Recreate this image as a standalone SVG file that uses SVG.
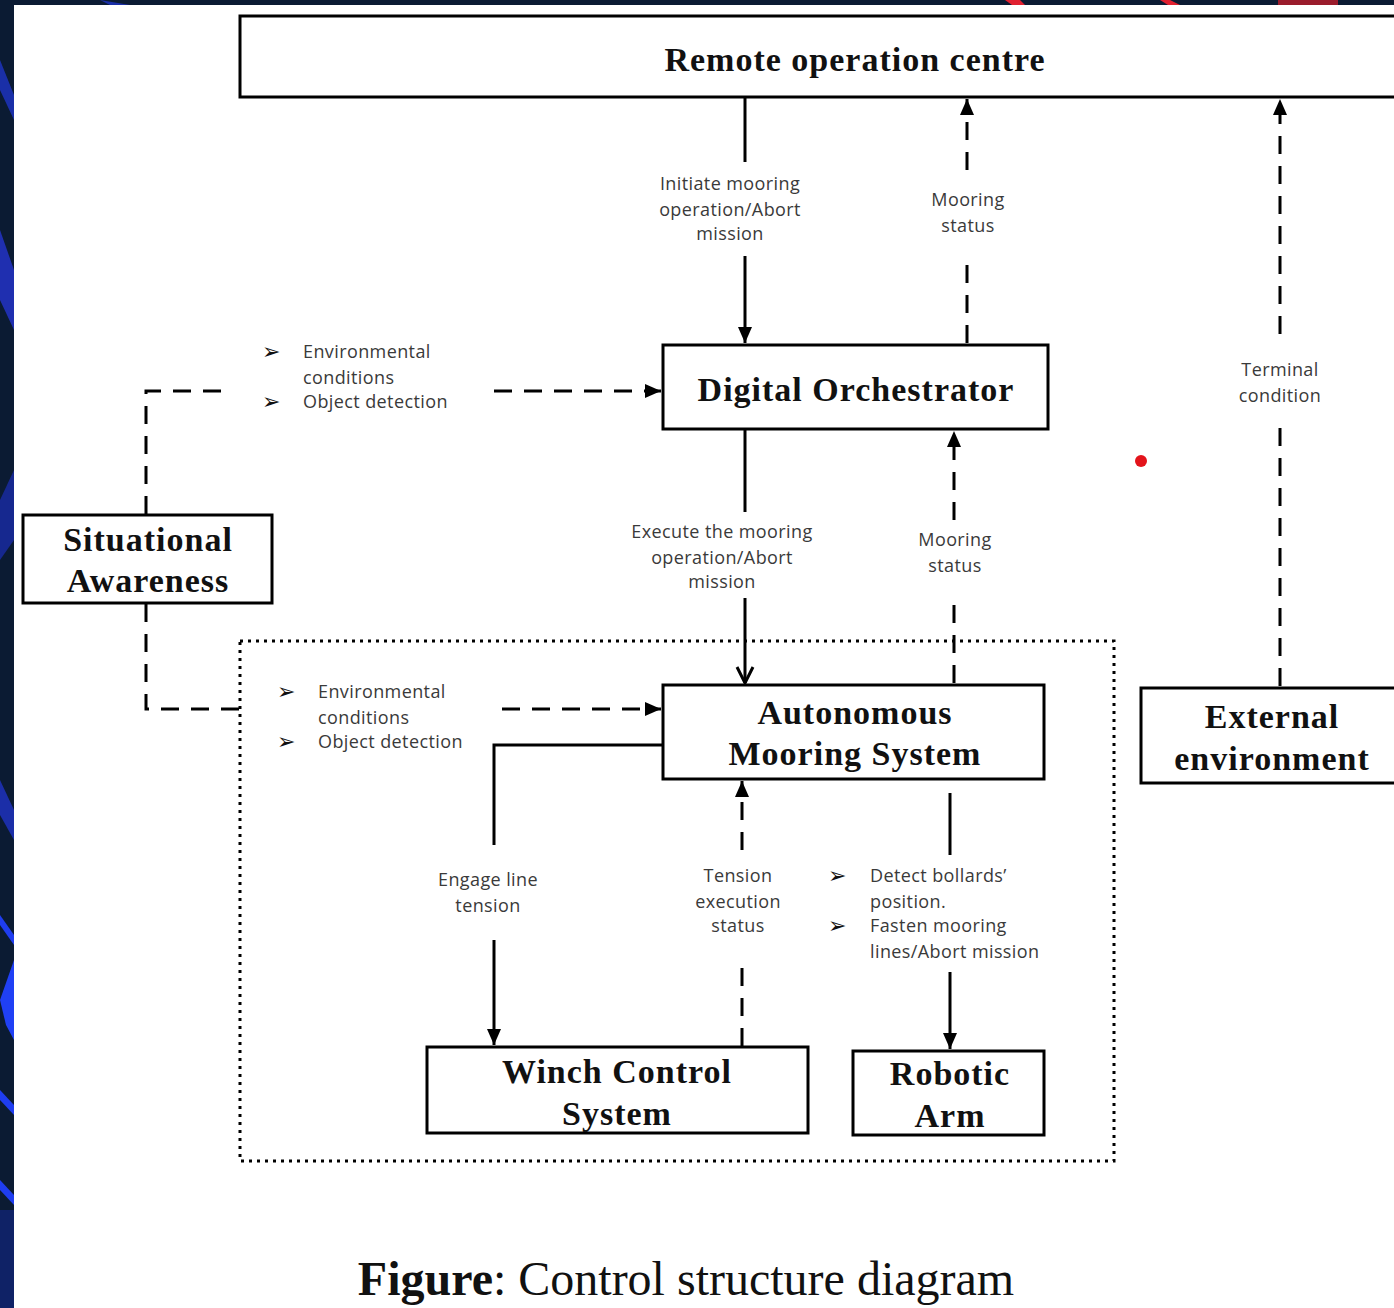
<svg xmlns="http://www.w3.org/2000/svg" width="1394" height="1308" viewBox="0 0 1394 1308">
  <defs>
    <style>
      .box { fill: #ffffff; stroke: #000000; stroke-width: 3; }
      .title { font-family: "Liberation Serif", "Times New Roman", serif; font-weight: bold; font-size: 34px; letter-spacing: 1px; fill: #111111; text-anchor: middle; }
      .lbl { font-family: "Open Sans", "Noto Sans", sans-serif; font-size: 18px; letter-spacing: 0.4px; fill: #3a3a3a; }
      .mid { text-anchor: middle; }
      .bul { font-family: "DejaVu Sans", sans-serif; font-size: 22px; fill: #111111; }
      .solid { fill: none; stroke: #000000; stroke-width: 3; }
      .dash { fill: none; stroke: #000000; stroke-width: 3; stroke-dasharray: 18 12; }
      .dots { fill: none; stroke: #000000; stroke-width: 3; stroke-dasharray: 3 5; }
    </style>
    <marker id="tri" markerUnits="userSpaceOnUse" markerWidth="18" markerHeight="18" viewBox="0 0 18 18" refX="17" refY="9" orient="auto">
      <path d="M1,2 L17,9 L1,16 Z" fill="#000000"/>
    </marker>
    <marker id="vee" markerUnits="userSpaceOnUse" markerWidth="20" markerHeight="20" viewBox="0 0 20 20" refX="18" refY="10" orient="auto">
      <path d="M2,2 L18,10 L2,18" fill="none" stroke="#000000" stroke-width="3"/>
    </marker>
  </defs>

  <!-- page frame -->
  <rect x="0" y="0" width="1394" height="1308" fill="#0b1b33"/>
  <g id="frame-streaks">
    <path d="M0,60 L14,95 L14,120 L0,90 Z" fill="#1a2fa8"/>
    <path d="M0,230 L14,270 L14,330 L0,300 Z" fill="#1f2fb0"/>
    <path d="M0,500 L14,470 L14,540 L0,560 Z" fill="#16288f"/>
    <path d="M0,780 L14,810 L14,840 L0,815 Z" fill="#1b2ea8"/>
    <path d="M0,915 L14,935 L14,945 L0,925 Z" fill="#1f3df0"/>
    <path d="M0,1000 L14,960 L14,1040 L6,1025 Z" fill="#2040f5"/>
    <path d="M0,1090 L14,1105 L14,1115 L0,1100 Z" fill="#1f3df0"/>
    <path d="M0,1180 L14,1195 L14,1205 L0,1190 Z" fill="#1f3df0"/>
    <rect x="0" y="1210" width="14" height="98" fill="#0f2266"/>
    <path d="M100,0 L130,5 L110,5 Z" fill="#1a2fa8"/>
    <path d="M1005,0 L1020,0 L1025,5 L1012,5 Z" fill="#e02030"/>
    <path d="M1160,0 L1170,0 L1180,5 L1168,5 Z" fill="#e02030"/>
    <rect x="1278" y="0" width="60" height="5" fill="#9a1c2c"/>
  </g>
  <rect x="14" y="5" width="1380" height="1303" fill="#ffffff"/>

  <!-- controlled process boundary -->
  <rect x="240" y="641" width="874" height="520" class="dots"/>

  <!-- connectors -->
  <g id="connectors">
    <!-- ROC -> Digital Orchestrator -->
    <line x1="745" y1="97" x2="745" y2="162" class="solid"/>
    <line x1="745" y1="256" x2="745" y2="343" class="solid" marker-end="url(#tri)"/>
    <!-- Digital Orchestrator -> ROC (status) -->
    <line x1="967" y1="343" x2="967" y2="258" class="dash"/>
    <line x1="967" y1="170" x2="967" y2="99" class="dash" stroke-dasharray="18 16" marker-end="url(#tri)"/>
    <!-- External environment -> ROC -->
    <line x1="1280" y1="686" x2="1280" y2="424" class="dash"/>
    <line x1="1280" y1="334" x2="1280" y2="99" class="dash" marker-end="url(#tri)"/>
    <!-- Digital Orchestrator -> AMS -->
    <line x1="745" y1="430" x2="745" y2="512" class="solid"/>
    <line x1="745" y1="598" x2="745" y2="683" class="solid" marker-end="url(#vee)"/>
    <!-- AMS -> Digital Orchestrator (status) -->
    <line x1="954" y1="683" x2="954" y2="598" class="dash"/>
    <line x1="954" y1="520" x2="954" y2="431" class="dash" stroke-dasharray="16 12" marker-end="url(#tri)"/>
    <!-- Situational Awareness -> Digital Orchestrator -->
    <polyline points="146,514 146,391 228,391" class="dash"/>
    <line x1="494" y1="391" x2="661" y2="391" class="dash" marker-end="url(#tri)"/>
    <!-- Situational Awareness -> AMS -->
    <polyline points="146,604 146,709 250,709" class="dash"/>
    <line x1="502" y1="709" x2="661" y2="709" class="dash" marker-end="url(#tri)"/>
    <!-- AMS -> Winch Control System -->
    <polyline points="663,745 494,745 494,845" class="solid"/>
    <line x1="494" y1="940" x2="494" y2="1045" class="solid" marker-end="url(#tri)"/>
    <!-- Winch Control System -> AMS (status) -->
    <line x1="742" y1="1046" x2="742" y2="962" class="dash"/>
    <line x1="742" y1="850" x2="742" y2="781" class="dash" stroke-dasharray="16 12" marker-end="url(#tri)"/>
    <!-- AMS -> Robotic Arm -->
    <line x1="950" y1="793" x2="950" y2="855" class="solid"/>
    <line x1="950" y1="972" x2="950" y2="1049" class="solid" marker-end="url(#tri)"/>
  </g>

  <!-- connector labels -->
  <g id="labels">
    <text class="lbl mid" x="730" y="190">Initiate mooring</text>
    <text class="lbl mid" x="730" y="216">operation/Abort</text>
    <text class="lbl mid" x="730" y="240">mission</text>

    <text class="lbl mid" x="968" y="206">Mooring</text>
    <text class="lbl mid" x="968" y="232">status</text>

    <text class="lbl mid" x="1280" y="376">Terminal</text>
    <text class="lbl mid" x="1280" y="402">condition</text>

    <text class="bul" x="262" y="359">➢</text>
    <text class="lbl" x="303" y="358">Environmental</text>
    <text class="lbl" x="303" y="384">conditions</text>
    <text class="bul" x="262" y="409">➢</text>
    <text class="lbl" x="303" y="408">Object detection</text>

    <text class="lbl mid" x="722" y="538">Execute the mooring</text>
    <text class="lbl mid" x="722" y="564">operation/Abort</text>
    <text class="lbl mid" x="722" y="588">mission</text>

    <text class="lbl mid" x="955" y="546">Mooring</text>
    <text class="lbl mid" x="955" y="572">status</text>

    <text class="bul" x="277" y="699">➢</text>
    <text class="lbl" x="318" y="698">Environmental</text>
    <text class="lbl" x="318" y="724">conditions</text>
    <text class="bul" x="277" y="749">➢</text>
    <text class="lbl" x="318" y="748">Object detection</text>

    <text class="lbl mid" x="488" y="886">Engage line</text>
    <text class="lbl mid" x="488" y="912">tension</text>

    <text class="lbl mid" x="738" y="882">Tension</text>
    <text class="lbl mid" x="738" y="908">execution</text>
    <text class="lbl mid" x="738" y="932">status</text>

    <text class="bul" x="828" y="883">➢</text>
    <text class="lbl" x="870" y="882">Detect bollards’</text>
    <text class="lbl" x="870" y="908">position.</text>
    <text class="bul" x="828" y="933">➢</text>
    <text class="lbl" x="870" y="932">Fasten mooring</text>
    <text class="lbl" x="870" y="958">lines/Abort mission</text>
  </g>

  <!-- nodes -->
  <g id="remote-operation-centre">
    <rect x="240" y="16" width="1170" height="81" class="box"/>
    <text class="title" x="855" y="71">Remote operation centre</text>
  </g>
  <g id="digital-orchestrator">
    <rect x="663" y="345" width="385" height="84" class="box"/>
    <text class="title" x="856" y="401">Digital Orchestrator</text>
  </g>
  <g id="situational-awareness">
    <rect x="23" y="515" width="249" height="88" class="box"/>
    <text class="title" x="148" y="551">Situational</text>
    <text class="title" x="148" y="592">Awareness</text>
  </g>
  <g id="autonomous-mooring-system">
    <rect x="663" y="685" width="381" height="94" class="box"/>
    <text class="title" x="855" y="724">Autonomous</text>
    <text class="title" x="855" y="765">Mooring System</text>
  </g>
  <g id="external-environment">
    <rect x="1141" y="688" width="260" height="95" class="box"/>
    <text class="title" x="1272" y="728">External</text>
    <text class="title" x="1272" y="770">environment</text>
  </g>
  <g id="winch-control-system">
    <rect x="427" y="1047" width="381" height="86" class="box"/>
    <text class="title" x="617" y="1083">Winch Control</text>
    <text class="title" x="617" y="1125">System</text>
  </g>
  <g id="robotic-arm">
    <rect x="853" y="1051" width="191" height="84" class="box"/>
    <text class="title" x="950" y="1085">Robotic</text>
    <text class="title" x="950" y="1127">Arm</text>
  </g>

  <!-- marker dot -->
  <circle cx="1141" cy="461" r="6" fill="#e3141b"/>

  <!-- caption -->
  <text x="686" y="1295" text-anchor="middle" font-family="Liberation Serif, 'Times New Roman', serif" font-size="48" fill="#111111"><tspan font-weight="bold">Figure</tspan>: Control structure diagram</text>
</svg>
